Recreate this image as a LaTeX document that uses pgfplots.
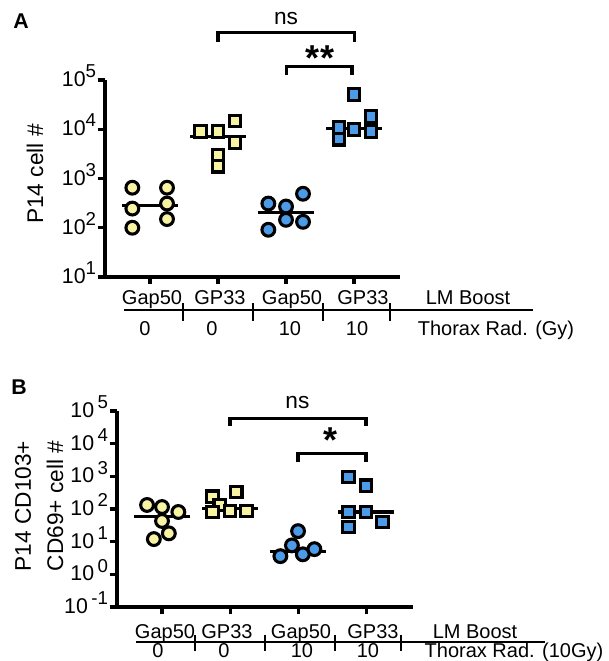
\documentclass[border=0pt]{standalone}
\usepackage{fontspec}
\setmainfont{Liberation Sans}
\usepackage{pgfplots}
\pgfplotsset{compat=1.18}
\definecolor{yel}{HTML}{F7F3A3}
\definecolor{blu}{HTML}{4C9BE8}
\newcommand\fs{\fontsize{15}{17}\selectfont}
\newcommand\tA[1]{10\raisebox{0.42em}{\fontsize{14}{14}\selectfont #1}}
\newcommand\tB[1]{10\,\raisebox{0.42em}{\fontsize{14}{14}\selectfont #1}}
\pgfplotsset{
  ycirc/.style={only marks, mark=*, mark size=4.8pt, mark options={fill=yel, draw=black, line width=2.3pt}},
  ysq/.style={only marks, mark=square*, mark size=4.4pt, mark options={fill=yel, draw=black, line width=2.3pt}},
  bcirc/.style={only marks, mark=*, mark size=4.8pt, mark options={fill=blu, draw=black, line width=2.3pt}},
  bsq/.style={only marks, mark=square*, mark size=4.4pt, mark options={fill=blu, draw=black, line width=2.3pt}},
  med/.style={black, line width=2.3pt, no marks},
  brk/.style={black, line width=2.4pt, no marks},
}
\begin{document}
\begin{tikzpicture}[x=0.75pt,y=0.75pt]
\useasboundingbox (0,0) rectangle (608,661);
% ---------------- Panel A ----------------
\begin{axis}[
  ymode=log,
  anchor=south west, scale only axis,
  at={(78.75pt,288pt)}, width=221.25pt, height=147.75pt,
  xmin=-0.662, xmax=3.676, ymin=10, ymax=1e5,
  axis x line*=bottom, axis y line*=left,
  axis line style={-, line width=2.3pt},
  tick style={line width=2.3pt, black}, major tick length=5.5pt, tick align=outside,
  minor tick style={draw=none},
  xtick={0,1,2,3}, xticklabels={},
  yticklabel style={font=\fontsize{16}{18}\selectfont, inner sep=1pt, anchor=base east, yshift=-5pt},
  clip=false,
  ytick={10,100,1000,10000,100000},
  yticklabels={\tA1,\tA2,\tA3,\tA4,\tA5},
]
\addplot[ycirc] coordinates {(-0.26,650) (-0.26,245) (-0.26,100) (0.25,650) (0.25,310) (0.25,150)};
\addplot[ysq] coordinates {(0.74,9100) (1,9100) (1.25,14700) (1.25,5400) (1,3000) (1,1780)};
\addplot[bcirc] coordinates {(1.74,310) (2,270) (2.25,490) (1.74,91) (2,145) (2.25,132)};
\addplot[bsq] coordinates {(3,50000) (3.25,18000) (2.78,11000) (2.78,6300) (3,10000) (3.25,9100)};
\addplot[med] coordinates {(-0.41,277) (0.41,277)};
\addplot[med] coordinates {(0.59,7200) (1.41,7200)};
\addplot[med] coordinates {(1.59,205) (2.41,205)};
\addplot[med] coordinates {(2.59,10500) (3.41,10500)};
\addplot[brk] coordinates {(1,600000) (1,912000) (3.01,912000) (3.01,600000)};
\addplot[brk] coordinates {(2.01,126000) (2.01,186000) (2.97,186000) (2.97,126000)};
\node[font=\fontsize{17}{17}\selectfont] at (axis cs:2,1.75e6) {ns};
\node[font=\fontsize{27}{27}\selectfont\bfseries] at (axis cs:2.5,2.8e5) {*\hspace{1pt}*};
\end{axis}
% ---------------- Panel B ----------------
\begin{axis}[
  ymode=log,
  anchor=south west, scale only axis,
  at={(87.75pt,40.5pt)}, width=222pt, height=147pt,
  xmin=-0.662, xmax=3.69, ymin=0.1, ymax=1e5,
  axis x line*=bottom, axis y line*=left,
  axis line style={-, line width=2.3pt},
  tick style={line width=2.3pt, black}, major tick length=5.5pt, tick align=outside,
  minor tick style={draw=none},
  xtick={0,1,2,3}, xticklabels={},
  yticklabel style={font=\fontsize{16}{18}\selectfont, inner sep=1pt, anchor=base east, yshift=-5pt},
  clip=false,
  ytick={0.1,1,10,100,1000,10000,100000},
  yticklabels={\tB{-1},\tB0,\tB1,\tB2,\tB3,\tB4,\tB5},
]
\addplot[ycirc] coordinates {(-0.22,133) (0,115) (0.24,81) (0,43) (-0.12,12) (0.1,18)};
\addplot[ysq] coordinates {(0.74,235) (1.09,330) (0.85,133) (0.74,81) (1,87) (1.24,87)};
\addplot[bcirc] coordinates {(2,21) (1.91,7.7) (1.74,3.6) (2.07,4.1) (2.24,5.9)};
\addplot[bsq] coordinates {(2.74,960) (3,510) (2.74,81) (2.74,28) (3,81) (3.24,40)};
\addplot[med] coordinates {(-0.41,60) (0.41,60)};
\addplot[med] coordinates {(0.59,107) (1.41,107)};
\addplot[med] coordinates {(1.59,5.1) (2.41,5.1)};
\addplot[med] coordinates {(2.59,81) (3.41,81)};
\addplot[brk] coordinates {(1,34700) (1,60300) (3,60300) (3,34700)};
\addplot[brk] coordinates {(2,2690) (2,5130) (3,5130) (3,2690)};
\node[font=\fontsize{17}{17}\selectfont] at (axis cs:1.99,1.8e5) {ns};
\node[font=\fontsize{27}{27}\selectfont\bfseries] at (axis cs:2.47,1.25e4) {*};
\end{axis}
% ---------------- annotations ----------------
\node[font=\fontsize{16}{16}\selectfont\bfseries] at (21,640) {A};
\node[font=\fontsize{16}{16}\selectfont\bfseries] at (19,274) {B};
\node[rotate=90, font=\fontsize{17}{19}\selectfont] at (35,487) {P14 cell \#};
\node[rotate=90, font=\fontsize{17}{19}\selectfont] at (23,155) {P14 CD103+};
\node[rotate=90, font=\fontsize{17}{19}\selectfont] at (55,155) {CD69+ cell \#};
\begin{scope}[font=\fs]
\node[anchor=base] at (152,356) {Gap50};
\node[anchor=base] at (220,356) {GP33};
\node[anchor=base] at (292,356) {Gap50};
\node[anchor=base] at (363,356) {GP33};
\node[anchor=base] at (468,356) {LM Boost};
\draw[line width=1.6pt] (124,351) -- (533,351);
\foreach \t in {183,253,323,390} \draw[line width=1.6pt] (\t,358) -- (\t,340);
\node[anchor=base] at (145,325) {0};
\node[anchor=base] at (212,325) {0};
\node[anchor=base] at (290,325) {10};
\node[anchor=base] at (357,325) {10};
\node[anchor=base] at (496,325) {Thorax Rad. (Gy)};
\node[anchor=base] at (165,22) {Gap50};
\node[anchor=base] at (227,22) {GP33};
\node[anchor=base] at (301,22) {Gap50};
\node[anchor=base] at (373,22) {GP33};
\node[anchor=base] at (475,22) {LM Boost};
\draw[line width=1.6pt] (136,19) -- (545,19);
\foreach \t in {195,265,335,401} \draw[line width=1.6pt] (\t,26) -- (\t,10);
\node[anchor=base] at (158,3) {0};
\node[anchor=base] at (224,3) {0};
\node[anchor=base] at (302,3) {10};
\node[anchor=base] at (368,3) {10};
\node[anchor=base] at (514,3) {Thorax Rad. (10Gy)};
\end{scope}
\end{tikzpicture}
\end{document}
